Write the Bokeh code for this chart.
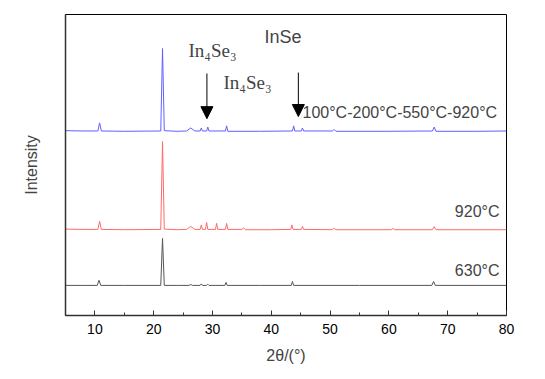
from bokeh.plotting import figure
from bokeh.models import FixedTicker, Label, Arrow, NormalHead, Range1d
from bokeh.embed import file_html
from bokeh.resources import INLINE

# ---- data ----
x_ticks = [10, 20, 30, 40, 50, 60, 70, 80]
x_minor = [5, 15, 25, 35, 45, 55, 65, 75]

blue_x = [5, 8, 10.5, 10.8, 11.1, 15, 21.2, 21.5, 21.8, 24, 25.6, 26.3, 27.0, 27.9, 28.1, 28.3,
          29.0, 29.2, 29.4, 32.2, 32.4, 32.6, 38, 43.6, 43.8, 44.0, 45.1, 45.3, 45.5,
          50.4, 50.7, 51.0, 60, 67.4, 67.7, 68.0, 75, 80]
blue_y = [61.4, 61.3, 61.3, 64.0, 61.3, 61.2, 61.3, 88.7, 61.4, 61.2, 61.3, 62.3, 61.3, 61.3, 62.3, 61.3,
          61.3, 62.6, 61.3, 61.3, 63.0, 61.2, 61.2, 61.3, 63.0, 61.3, 61.3, 62.3, 61.3,
          61.3, 61.8, 61.2, 61.2, 61.3, 62.6, 61.2, 61.2, 61.3]

red_x = [5, 8, 10.5, 10.8, 11.1, 15, 21.2, 21.5, 21.8, 24, 25.6, 26.3, 27.0, 27.9, 28.1, 28.3,
         28.8, 29.0, 29.2, 30.5, 30.7, 30.9, 32.2, 32.4, 32.6, 35.0, 35.3, 35.6, 40,
         43.3, 43.5, 43.7, 45.1, 45.3, 45.5, 50.4, 50.7, 51.0, 60.4, 60.7, 61.0,
         67.4, 67.7, 68.0, 75, 80]
red_y = [28.7, 28.6, 28.6, 31.3, 28.6, 28.5, 28.6, 57.8, 28.7, 28.5, 28.6, 29.6, 28.6, 28.6, 30.1, 28.6,
         28.6, 30.9, 28.6, 28.6, 30.6, 28.6, 28.6, 30.6, 28.6, 28.6, 29.1, 28.5, 28.5,
         28.6, 30.1, 28.6, 28.6, 29.6, 28.6, 28.5, 29.0, 28.5, 28.5, 28.9, 28.5,
         28.5, 29.5, 28.5, 28.5, 28.5]

black_x = [5, 8, 10.4, 10.7, 11.0, 15, 21.2, 21.5, 21.8, 24, 26.0, 26.3, 26.6, 27.9, 28.1, 28.3,
           29.0, 29.2, 29.4, 32.1, 32.3, 32.5, 38, 43.4, 43.6, 43.8, 55, 67.3, 67.6, 67.9, 75, 80]
black_y = [10.0, 10.0, 10.0, 11.7, 10.0, 10.0, 10.0, 25.6, 10.0, 10.0, 10.0, 10.3, 10.0, 10.0, 10.5, 10.0,
           10.0, 10.4, 10.0, 10.0, 11.0, 10.0, 10.0, 10.0, 11.3, 10.0, 10.0, 10.0, 11.3, 10.0, 10.0, 10.0]

SANS = "Liberation Sans"
SERIF = "Liberation Serif"

FL, FB = 65, 315  # frame left / bottom in page pixels (for screen-unit labels)

p = figure(width=537, height=371, output_backend="svg", toolbar_location=None,
           x_range=Range1d(5, 80), y_range=Range1d(0, 100),
           min_border_left=65, min_border_right=31, min_border_top=14, min_border_bottom=56)
p.xgrid.visible = False
p.ygrid.visible = False
p.outline_line_color = "black"
p.outline_line_width = 1
p.background_fill_color = "white"
p.border_fill_color = "white"

p.line(blue_x, blue_y, line_color="#6060ff", line_width=1)
p.line(red_x, red_y, line_color="#ff6a6a", line_width=1)
p.line(black_x, black_y, line_color="#555555", line_width=1)

xa = p.xaxis[0]
xa.ticker = FixedTicker(ticks=x_ticks, minor_ticks=x_minor)
xa.major_tick_in = 5
xa.major_tick_out = 0
xa.minor_tick_in = 3
xa.minor_tick_out = 0
xa.axis_line_color = "#333333"
xa.axis_line_width = 1.5
xa.major_tick_line_color = "#333333"
xa.minor_tick_line_color = "#333333"
xa.major_label_text_font = SANS
xa.major_label_text_font_size = "14px"
xa.major_label_text_color = "black"
xa.major_label_standoff = 8
xa.axis_label = "2θ/(°)"
xa.axis_label_text_font = SANS
xa.axis_label_text_font_size = "16px"
xa.axis_label_text_font_style = "normal"
xa.axis_label_standoff = 10

ya = p.yaxis[0]
ya.ticker = FixedTicker(ticks=[])
ya.major_tick_line_color = None
ya.minor_tick_line_color = None
ya.axis_line_color = "#333333"
ya.axis_line_width = 1.5
ya.major_label_text_font_size = "0px"
ya.axis_label = "Intensity"
ya.axis_label_text_font = SANS
ya.axis_label_text_font_size = "16px"
ya.axis_label_text_font_style = "normal"
ya.axis_label_standoff = 26

# annotations
p.add_layout(Label(x=264 - FL, y=FB - 36, x_units="screen", y_units="screen", text="InSe",
                   text_font=SANS, text_font_size="18px", text_baseline="middle"))
p.add_layout(Label(x=188 - FL, y=FB - 50, x_units="screen", y_units="screen", text="In₄Se₃",
                   text_font=SERIF, text_font_size="19px", text_baseline="middle"))
p.add_layout(Label(x=223 - FL, y=FB - 82, x_units="screen", y_units="screen", text="In₄Se₃",
                   text_font=SERIF, text_font_size="19px", text_baseline="middle"))
p.add_layout(Label(x=302 - FL, y=FB - 112, x_units="screen", y_units="screen",
                   text="100°C-200°C-550°C-920°C",
                   text_font=SANS, text_font_size="16px", text_baseline="middle"))
p.add_layout(Label(x=499 - FL, y=FB - 211, x_units="screen", y_units="screen", text="920°C",
                   text_font=SANS, text_font_size="16px", text_baseline="middle", text_align="right"))
p.add_layout(Label(x=499 - FL, y=FB - 270, x_units="screen", y_units="screen", text="630°C",
                   text_font=SANS, text_font_size="16px", text_baseline="middle", text_align="right"))

for ax, top, bot in [(29.05, 80.4, 65.4), (44.6, 80.7, 66.1)]:
    p.add_layout(Arrow(x_start=ax, y_start=top, x_end=ax, y_end=bot,
                       line_color="black", line_width=1,
                       end=NormalHead(size=12, fill_color="black", line_color="black")))

open("out.html", "w").write(file_html(p, INLINE))
